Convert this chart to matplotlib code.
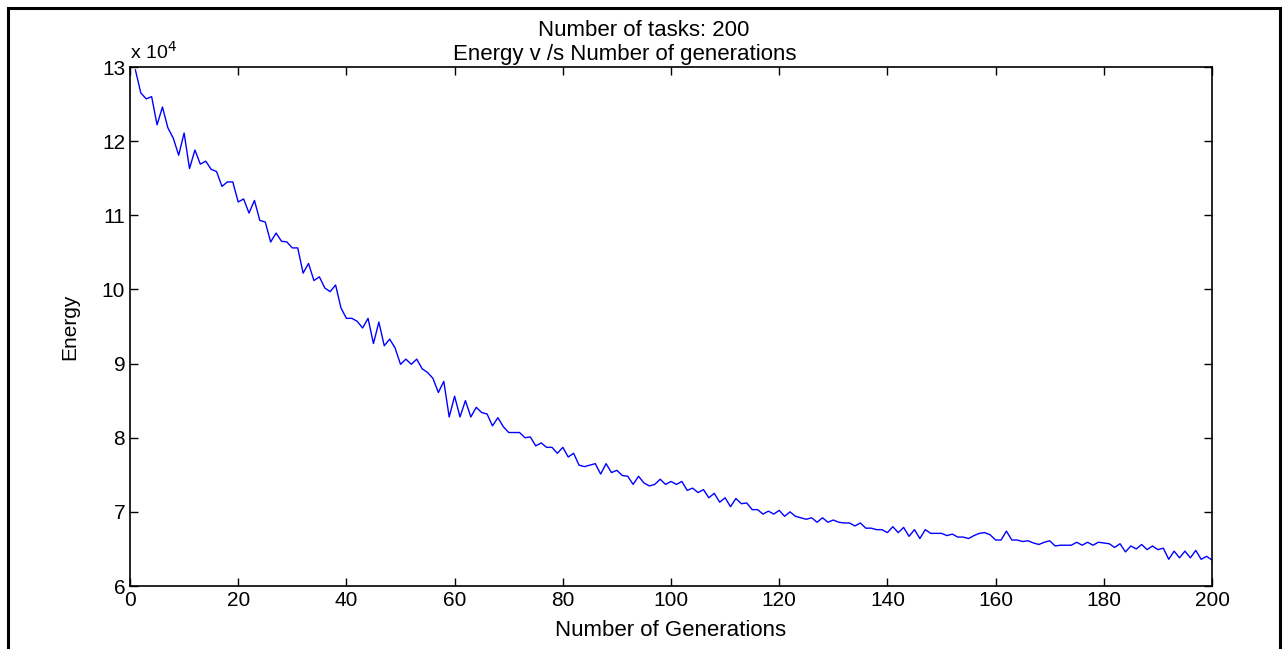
import matplotlib
matplotlib.use("Agg")
import matplotlib.pyplot as plt
from matplotlib.patches import Rectangle

# energy values, in units of 1e4, for generations 1..200
energy = [
    12.96, 12.65, 12.57, 12.60, 12.22, 12.46, 12.18, 12.04, 11.81, 12.11,
    11.63, 11.88, 11.69, 11.73, 11.62, 11.59, 11.39, 11.45, 11.45, 11.18,
    11.22, 11.03, 11.20, 10.93, 10.91, 10.64, 10.76, 10.65, 10.64, 10.56,
    10.56, 10.22, 10.35, 10.12, 10.17, 10.02, 9.97, 10.06, 9.75, 9.61,
    9.61, 9.57, 9.48, 9.61, 9.27, 9.56, 9.24, 9.33, 9.21, 8.99,
    9.06, 8.99, 9.06, 8.93, 8.88, 8.80, 8.61, 8.76, 8.28, 8.56,
    8.28, 8.50, 8.28, 8.41, 8.34, 8.32, 8.16, 8.27, 8.15, 8.07,
    8.07, 8.07, 8.00, 8.01, 7.89, 7.93, 7.87, 7.87, 7.79, 7.87,
    7.74, 7.79, 7.63, 7.61, 7.63, 7.65, 7.51, 7.65, 7.53, 7.56,
    7.49, 7.48, 7.37, 7.48, 7.39, 7.35, 7.37, 7.44, 7.37, 7.41,
    7.37, 7.41, 7.29, 7.32, 7.26, 7.30, 7.19, 7.25, 7.13, 7.19,
    7.07, 7.18, 7.11, 7.12, 7.03, 7.03, 6.97, 7.01, 6.97, 7.02,
    6.94, 7.00, 6.94, 6.92, 6.90, 6.92, 6.86, 6.92, 6.86, 6.89,
    6.86, 6.85, 6.85, 6.81, 6.85, 6.78, 6.78, 6.76, 6.76, 6.72,
    6.80, 6.72, 6.79, 6.67, 6.76, 6.64, 6.76, 6.71, 6.71, 6.71,
    6.68, 6.70, 6.66, 6.66, 6.64, 6.68, 6.71, 6.72, 6.69, 6.62,
    6.62, 6.74, 6.62, 6.62, 6.60, 6.61, 6.58, 6.56, 6.59, 6.61,
    6.54, 6.55, 6.55, 6.55, 6.59, 6.55, 6.59, 6.55, 6.59, 6.58,
    6.57, 6.52, 6.57, 6.46, 6.54, 6.50, 6.56, 6.49, 6.54, 6.49,
    6.51, 6.36, 6.47, 6.38, 6.47, 6.38, 6.48, 6.36, 6.40, 6.35,
]
generations = list(range(1, len(energy) + 1))
xticks = list(range(0, 201, 20))
yticks = list(range(6, 14))

plt.rcParams['font.family'] = ['Liberation Sans', 'DejaVu Sans']

W, H = 1284, 649
fig = plt.figure(figsize=(W / 100, H / 100), dpi=100)
ax = fig.add_axes([130 / W, 1 - 586 / H, 1082 / W, 519 / H])
ax.plot(generations, energy, color='#0000ff', lw=1)

ax.set_xlim(0, 200)
ax.set_ylim(6, 13)
ax.set_xticks(xticks)
ax.set_yticks(yticks)
ax.tick_params(direction='in', top=True, right=True, labelsize=15, length=6, width=1)
for s in ax.spines.values():
    s.set_linewidth(1.2)

# two title lines, MATLAB puts them a bit left of centre
fig.text(644 / W, 1 - 36 / H, 'Number of tasks: 200', fontsize=16, ha='center', va='baseline')
fig.text(625 / W, 1 - 60 / H, 'Energy v /s Number of generations', fontsize=16, ha='center', va='baseline')
ax.set_xlabel('Number of Generations', fontsize=16, labelpad=7)
ax.set_ylabel('Energy', fontsize=15, labelpad=16)
ax.text(0, 1.008, r'x 10$^4$', transform=ax.transAxes, fontsize=14, ha='left', va='bottom')

# outer frame around the figure
fig.patches.append(Rectangle((8 / W, -0.05), 1272 / W, 1.05 - 8 / H, transform=fig.transFigure,
                             fill=False, ec='black', lw=2.2, clip_on=False))

fig.savefig('out.png', dpi=100)
